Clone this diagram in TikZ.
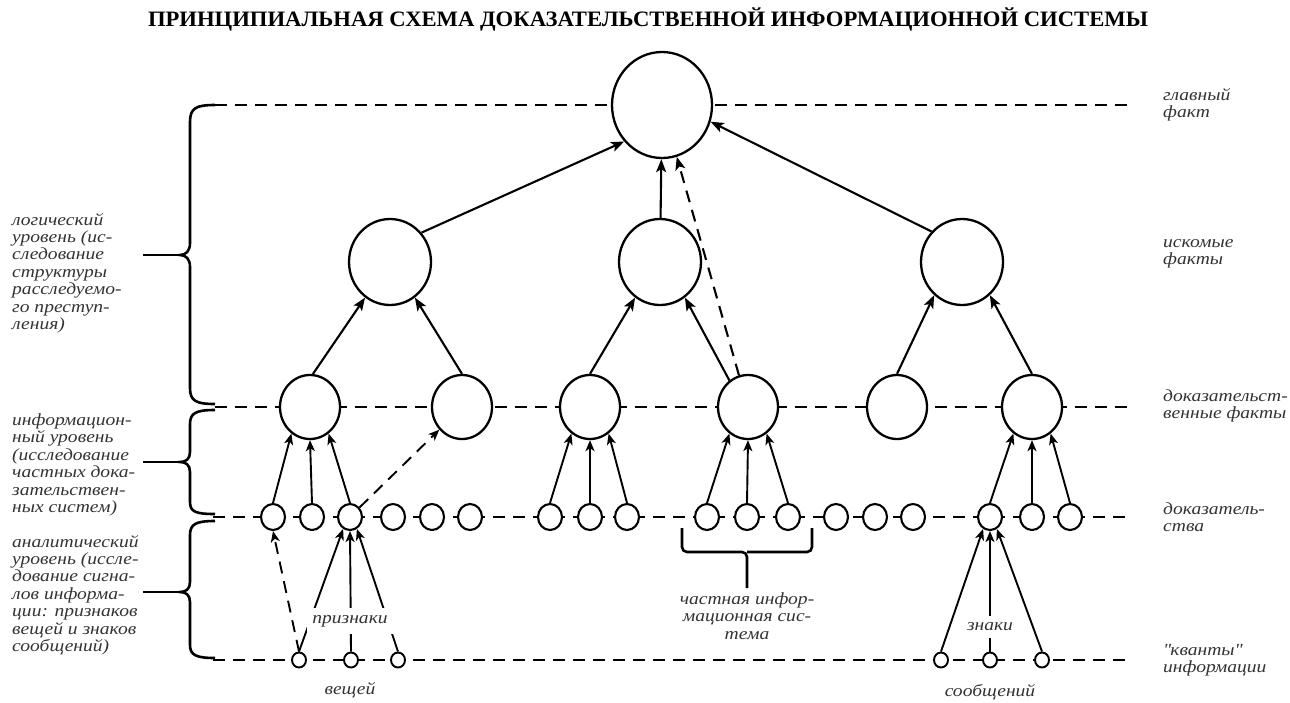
\documentclass[tikz,border=0pt]{standalone}
\usepackage{fontspec}
\setmainfont{Liberation Serif}
\newfontfamily\lblfont[FakeStretch=1.15]{Liberation Serif}
\usetikzlibrary{arrows.meta,shapes.geometric}
\begin{document}
\begin{tikzpicture}[x=1pt,y=-1pt,
  big/.style={draw,ellipse,line width=2.3pt,fill=white,inner sep=0pt},
  c1/.style={big,minimum width=100pt,minimum height=106pt},
  c2/.style={big,minimum width=82pt,minimum height=86pt},
  c3/.style={big,minimum width=60pt,minimum height=64pt},
  c4/.style={big,line width=2.1pt,minimum width=24pt,minimum height=26pt},
  c5/.style={big,line width=1.9pt,minimum width=14pt,minimum height=15pt},
  arr/.style={line width=2.1pt,-{Stealth[length=13pt,width=10pt,inset=3pt]}},
  sarr/.style={line width=1.9pt,-{Stealth[length=11pt,width=9pt,inset=3pt]}},
  dashl/.style={dash pattern=on 12pt off 8pt},
  dl/.style={line width=2.3pt,dashl},
  brc/.style={line width=2.6pt},
  lbl/.style={font=\lblfont\fontsize{17}{17.4}\selectfont\itshape,align=left,inner sep=0pt,text=black!80},
  clbl/.style={lbl,align=center},
  wlbl/.style={lbl,fill=white,inner xsep=5pt,inner ysep=7pt}
]
\useasboundingbox (0,0) rectangle (1290,702);

% title
\node[font=\fontsize{22}{22}\selectfont\bfseries] (title) at (648,19)
  {\resizebox{1000pt}{\height}{ПРИНЦИПИАЛЬНАЯ СХЕМА ДОКАЗАТЕЛЬСТВЕННОЙ ИНФОРМАЦИОННОЙ СИСТЕМЫ}};

% level lines
\coordinate (l1a) at (215,105); \coordinate (l1b) at (1130,105);
\coordinate (l2a) at (215,407); \coordinate (l2b) at (1130,407);
\coordinate (l3a) at (213,517); \coordinate (l3b) at (1130,517);
\coordinate (l4a) at (213,660); \coordinate (l4b) at (1130,660);
\draw[dl] (l1a) -- (l1b);
\draw[dl] (l2a) -- (l2b);
\draw[dl] (l3a) -- (l3b);
\draw[dl] (l4a) -- (l4b);

% braces on the left
\draw[brc] (l1a) .. controls (196,105) and (190,108) .. (190,122) -- (190,243)
  .. controls (190,251) and (186,255) .. (180,255)
  .. controls (186,255) and (190,259) .. (190,267) -- (190,388)
  .. controls (190,401) and (196,404) .. (215,404);
\draw[brc] (180,255) -- (143,255);
\draw[brc] (215,410) .. controls (196,410) and (190,413) .. (190,424) -- (190,452)
  .. controls (190,459) and (186,462) .. (180,462)
  .. controls (186,462) and (190,465) .. (190,472) -- (190,502)
  .. controls (190,512) and (196,514) .. (215,514);
\draw[brc] (180,462) -- (143,462);
\draw[brc] (215,521) .. controls (196,521) and (190,524) .. (190,535) -- (190,582)
  .. controls (190,589) and (186,592) .. (180,592)
  .. controls (186,592) and (190,595) .. (190,602) -- (190,645)
  .. controls (190,655) and (196,658) .. (215,658);
\draw[brc] (180,592) -- (143,592);

% nodes
\node[c1] (m) at (662,105) {};
\node[c2] (f1) at (390,262) {};
\node[c2] (f2) at (660,262) {};
\node[c2] (f3) at (962,262) {};
\foreach \n/\x in {1/310,2/462,3/590,4/748,5/897,6/1032}
  \node[c3] (e\n) at (\x,407) {};
\foreach \n/\x in {1/273,2/312,3/350,4/393,5/432,6/470,7/550,8/590,9/627,10/707,11/747,12/788,13/836,14/875,15/913,16/990,17/1032,18/1070}
  \node[c4] (d\n) at (\x,517) {};
\foreach \n/\x in {1/299,2/351,3/398,4/941,5/990,6/1042}
  \node[c5] (t\n) at (\x,660) {};

% connectors to main fact
\draw[arr] (f1.43) -- (m.224);
\draw[arr] (f2) -- (m);
\draw[arr] (f3.135) -- (m.-19);
\draw[arr,dashl] (e4) -- (m);

% evidential facts to sought facts
\draw[arr] (e1.85) -- (f1.235);
\draw[arr] (e2.north) -- (f1.-55);
\draw[arr] (e3.north) -- (f2.235);
\draw[arr] (e4.125) -- (f2.-55);
\draw[arr] (e5.north) -- (f3.230);
\draw[arr] (e6.north) -- (f3.-50);

% evidence to evidential facts
\draw[sarr] (d1.north) -- (e1.235);
\draw[sarr] (d2.north) -- (e1.south);
\draw[sarr] (d3.north) -- (e1.305);
\draw[sarr] (d7.north) -- (e3.235);
\draw[sarr] (d8.north) -- (e3.south);
\draw[sarr] (d9.north) -- (e3.305);
\draw[sarr] (d10.north) -- (e4.235);
\draw[sarr] (d11.north) -- (e4.south);
\draw[sarr] (d12.north) -- (e4.305);
\draw[sarr] (d16.north) -- (e6.235);
\draw[sarr] (d17.north) -- (e6.south);
\draw[sarr] (d18.north) -- (e6.305);
\draw[sarr,dashl] (d3.45) -- (e2.225);

% quanta to evidence
\draw[sarr,dashl] (t1.north) -- (d1.south);
\draw[sarr] (t1.north) -- (d3.240);
\draw[sarr] (t2.north) -- (d3.south);
\draw[sarr] (t3.north) -- (d3.300);
\draw[sarr] (t4.north) -- (d16.240);
\draw[sarr] (t5.north) -- (d16.south);
\draw[sarr] (t6.north) -- (d16.300);

% bracket under partial system
\coordinate (bl) at (682,528); \coordinate (br) at (812,528);
\coordinate (bm) at (747,552); \coordinate (bs) at (747,588);
\draw[brc,rounded corners=5pt] (bl) |- (bm) -- (bs);
\draw[brc,rounded corners=5pt] (br) |- (bm);
\node[clbl] (part) at (747,616) {частная инфор-\\мационная сис-\\тема};

% inline labels
\node[wlbl] (priz) at (350,621) {признаки};
\node[wlbl] (znak) at (990,627) {знаки};
\node[lbl] (vesh) at (350,690) {вещей};
\node[lbl] (soob) at (990,692) {сообщений};

% right labels
\node[lbl,anchor=west] (r1) at (1163,105) {главный\\факт};
\node[lbl,anchor=west] (r2) at (1163,254) {искомые\\факты};
\node[lbl,anchor=west] (r3) at (1163,406) {доказательст-\\венные факты};
\node[lbl,anchor=west] (r4) at (1163,517) {доказатель-\\ства};
\node[lbl,anchor=west] (r5) at (1163,660) {\textquotedbl кванты\textquotedbl\\информации};

% left labels
\node[lbl,anchor=west] (ll1) at (12,273) {логический\\уровень (ис-\\следование\\структуры\\расследуемо-\\го преступ-\\ления)};
\node[lbl,anchor=west] (ll2) at (12,465) {информацион-\\ный уровень\\(исследование\\частных дока-\\зательствен-\\ных систем)};
\node[lbl,anchor=west] (ll3) at (12,595) {аналитический\\уровень (иссле-\\дование сигна-\\лов информа-\\ции: признаков\\вещей и знаков\\сообщений)};
\end{tikzpicture}
\end{document}
